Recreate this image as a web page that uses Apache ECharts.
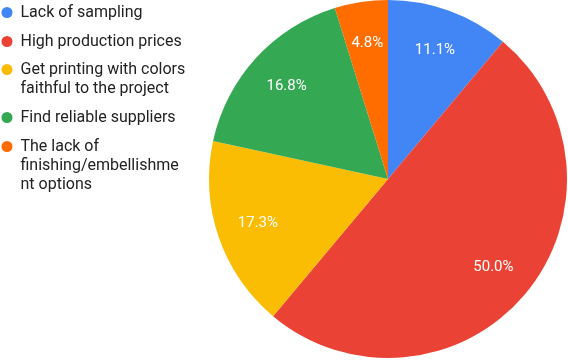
<!DOCTYPE html>
<html>
<head>
<meta charset="utf-8">
<script src="https://cdn.jsdelivr.net/npm/echarts@6/dist/echarts.min.js"></script>
<style>
html,body{margin:0;padding:0;background:#fff;}
#chart{width:568px;height:360px;}
</style>
</head>
<body>
<div id="chart"></div>
<script>
const categories = [
  'Lack of sampling',
  'High production prices',
  'Get printing with colors faithful to the project',
  'Find reliable suppliers',
  'The lack of finishing/embellishment options'
];
const values = [11.1, 50.0, 17.3, 16.8, 4.8];
const legendLines = [
  ['Lack of sampling'],
  ['High production prices'],
  ['Get printing with colors', 'faithful to the project'],
  ['Find reliable suppliers'],
  ['The lack of', 'finishing/embellishme', 'nt options']
];
const colors = ['#4285F4', '#EA4335', '#FBBC04', '#34A853', '#FF6D01'];

const LH = 19;
const iconCenters = [11, 40, 68, 116, 145];

const chart = echarts.init(document.getElementById('chart'), null, {renderer: 'canvas'});

const legends = categories.map((name, i) => {
  const extra = legendLines[i].length - 1;
  // blank lines above so the first text line sits level with the icon
  const text = '\n'.repeat(extra) + legendLines[i].join('\n');
  return {
    orient: 'vertical',
    left: 1.5,
    top: iconCenters[i] - 8 - extra * LH,
    padding: 0,
    icon: 'circle',
    itemWidth: 11,
    itemHeight: 11,
    selectedMode: false,
    data: [name],
    formatter: () => text,
    textStyle: {
      fontFamily: 'Roboto',
      fontSize: 16,
      color: '#222222',
      lineHeight: LH,
      padding: [0, 0, 0, 3]
    }
  };
});

const pieData = categories.map((name, i) => ({name: name, value: values[i]}));

chart.setOption({
  animation: false,
  color: colors,
  legend: legends,
  series: [
    {
      type: 'pie',
      center: [388, 179],
      radius: [0, 179],
      startAngle: 90,
      clockwise: true,
      data: pieData,
      label: {show: false},
      labelLine: {show: false},
      itemStyle: {borderWidth: 0},
      emphasis: {disabled: true}
    },
    {
      type: 'pie',
      center: [388, 179],
      radius: [90, 179],
      startAngle: 90,
      clockwise: true,
      silent: true,
      data: pieData,
      itemStyle: {color: 'rgba(0,0,0,0)', borderWidth: 0},
      labelLine: {show: false},
      label: {
        show: true,
        position: 'inside',
        color: '#ffffff',
        fontFamily: 'Roboto',
        fontSize: 15,
        formatter: p => p.percent.toFixed(1) + '%'
      },
      emphasis: {disabled: true}
    }
  ]
});
</script>
</body>
</html>
